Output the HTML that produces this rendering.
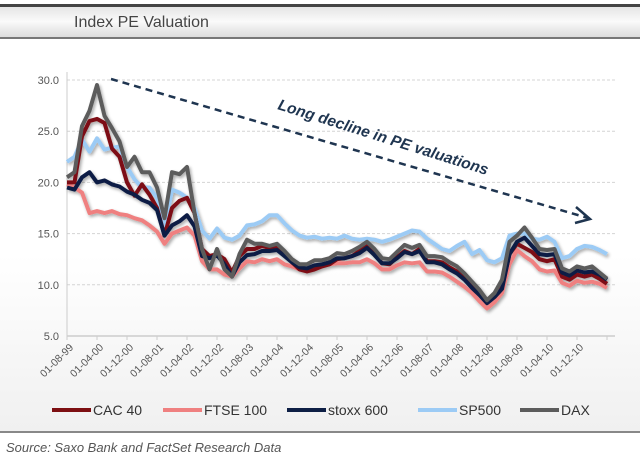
<!DOCTYPE html>
<html><head><meta charset="utf-8"><style>
body{margin:0;background:#fff;width:640px;height:466px;overflow:hidden;font-family:"Liberation Sans",sans-serif}
</style></head><body>
<svg width="640" height="466" xmlns="http://www.w3.org/2000/svg">
<defs>
<linearGradient id="hdr" x1="0" y1="0" x2="0" y2="1"><stop offset="0" stop-color="#e2e2e2"/><stop offset="0.5" stop-color="#fafafa"/><stop offset="1" stop-color="#dadada"/></linearGradient>
<linearGradient id="bg" x1="0" y1="0" x2="0" y2="1"><stop offset="0" stop-color="#ffffff"/><stop offset="0.55" stop-color="#ffffff"/><stop offset="1" stop-color="#f0f0f0"/></linearGradient>
<filter id="sh" x="-5%" y="-5%" width="110%" height="120%"><feGaussianBlur in="SourceAlpha" stdDeviation="1.5"/><feOffset dx="1.5" dy="2"/><feComponentTransfer><feFuncA type="linear" slope="0.35"/></feComponentTransfer><feMerge><feMergeNode/><feMergeNode in="SourceGraphic"/></feMerge></filter>
</defs>
<rect x="0" y="38" width="640" height="394" fill="url(#bg)"/>
<rect x="0" y="5" width="640" height="33" fill="url(#hdr)"/>
<rect x="0" y="4" width="640" height="3" fill="#444"/>
<rect x="0" y="37" width="640" height="2" fill="#777"/>
<text x="74" y="27" font-size="16" fill="#444">Index PE Valuation</text>
<g id="grid"></g><g id="axes"></g><g id="series" filter="url(#sh)"></g>
<g>
<line x1="111" y1="79" x2="588" y2="218" stroke="#1f3550" stroke-width="2.5" stroke-dasharray="7,5"/>
<polyline points="576,207 590,219 575,223" fill="none" stroke="#1f3550" stroke-width="2.5"/>
</g>
<text x="0" y="0" transform="translate(277,109) rotate(17.5)" font-size="15.5" font-weight="bold" font-style="italic" fill="#1f3550">Long decline in PE valuations</text>
<g id="legend"></g>
<rect x="0" y="431" width="640" height="2" fill="#888"/>
<text x="6" y="452" font-size="13" font-style="italic" fill="#555">Source: Saxo Bank and FactSet Research Data</text>
</svg>
<script>
const yTicks=[5,10,15,20,25,30];
const xLabels=["01-08-99","01-04-00","01-12-00","01-08-01","01-04-02","01-12-02","01-08-03","01-04-04","01-12-04","01-08-05","01-04-06","01-12-06","01-08-07","01-04-08","01-12-08","01-08-09","01-04-10","01-12-10"];
const seriesNames=["SP500","FTSE 100","CAC 40","stoxx 600","DAX"];
const cac=[20,20,24.5,26,26.2,25.8,23.3,22.5,20,18.7,19.8,18.8,17.5,14.8,17.5,18.2,18.5,17,13.5,12.8,13,12.5,11.2,12.8,13.5,13.5,13.8,13.6,13.8,13,12.2,11.5,11.3,11.5,11.8,12,12.5,12.6,12.8,13.3,13.8,13,12.1,12,12.7,13.3,13,13.5,12.3,12.3,12.2,11.7,11.3,10.6,9.9,9.2,8.3,8.9,9.8,13,14,13.6,13.2,12.5,12.3,12.5,10.8,10.5,11,10.8,11,10.6,10.1];
const ftse=[19.8,19.5,19,17,17.2,17,17.2,16.9,16.8,16.5,16.3,15.8,15.2,14,15,15.3,15.6,14.8,12.3,11.5,11.5,11,10.8,11.6,12.3,12.2,12.5,12.3,12.5,12,11.8,11.5,11.5,11.7,11.9,12,12.1,12.1,12.2,12.2,12.5,12.1,11.5,11.5,11.9,12.2,12.1,12.2,11.3,11.3,11.2,10.8,10.3,9.8,9.2,8.4,7.7,8.3,9.2,12,13.4,12.8,12.3,11.5,11.3,11.4,10.2,9.9,10.4,10.2,10.3,10.1,9.7];
const stoxx=[19.5,19.3,20.5,21,20,20.2,19.8,19.6,19.1,18.8,18.3,18,17.3,14.8,15.8,16.2,16.8,15.7,12.8,12.6,12.9,12,10.8,12.2,12.9,13,13.3,13.3,13.4,12.8,12.2,11.7,11.6,11.9,12,12.2,12.6,12.6,12.8,13.1,13.6,12.9,12.1,12.1,12.6,13.2,13,13.3,12.2,12.2,12,11.5,11.1,10.5,9.7,9,8.2,8.8,9.6,13,14.2,14.6,13.8,13,12.9,13,11.2,10.9,11.4,11.2,11.3,11,10.5];
const sp500=[22,22.5,24.2,23,24.3,23.2,23.4,23.5,21.5,20.3,19.5,19.5,18.5,15.5,19.3,19,18.5,17.5,15.3,14.5,15.5,14.6,14.4,14.8,15.8,15.9,16.2,16.8,16.8,16,15.3,14.8,14.6,14.7,14.5,14.6,14.5,14.8,14.5,14.4,14.5,14.4,14.2,14.4,14.7,15,15.3,15.2,14.5,14,13.5,13.3,13.8,14.2,13,13.4,12.4,12.2,12.6,14.8,15,15,14.5,14.4,14.7,14.2,12.6,12.8,13.5,13.8,13.7,13.4,13];
const dax=[20.5,21,25.5,27,29.5,26.5,25.3,24,21.5,22.5,21,21,19.5,16.5,21,20.8,21.5,17,13.5,11.5,13.5,11.5,10.8,13,14.4,14,14,13.8,14,13.3,12.5,12,12,12.4,12.4,12.6,13.1,13,13.3,13.7,14.2,13.5,12.6,12.5,13.2,13.9,13.6,13.9,12.8,12.8,12.7,12.2,11.8,11.1,10.3,9.5,8.5,9.2,10.5,14.2,14.8,15.6,14.6,13.5,13.4,13.5,11.6,11.3,11.8,11.6,11.8,11.2,10.6];
const NS="http://www.w3.org/2000/svg";
const X0=67,X1=615,Y0=336,Y1=80;
function yS(v){return Y0-(v-5)/25*(Y0-Y1);}
function xS(i){return X0+i*7.5;}
function xT(k){return X0+k*30;}
function mk(tag,attrs,parent){const e=document.createElementNS(NS,tag);for(const k in attrs)e.setAttribute(k,attrs[k]);parent.appendChild(e);return e;}
const grid=document.getElementById('grid'),axes=document.getElementById('axes'),ser=document.getElementById('series'),leg=document.getElementById('legend');
yTicks.forEach(t=>{
  if(t>5){const g=mk('line',{x1:X0,x2:X1,y1:yS(t),y2:yS(t),stroke:'#d4d4d4','stroke-width':1,'stroke-dasharray':'3,2'},grid);
  
  }
  const l=mk('text',{x:X0-8,y:yS(t)+4,'text-anchor':'end','font-size':11,fill:'#555'},axes);l.textContent=t.toFixed(1);
  
  
});
const ya=mk('line',{x1:X0,x2:X0,y1:72,y2:Y0,stroke:'#ccc','stroke-width':1},axes);


const xa=mk('line',{x1:X0,x2:X1,y1:Y0,y2:Y0,stroke:'#ccc','stroke-width':1.5},axes);


for(let k=0;k<=18;k++){mk('line',{x1:xT(k),x2:xT(k),y1:Y0,y2:Y0+4,stroke:'#ccc'},axes);}
xLabels.forEach((s,k)=>{const t=mk('text',{x:0,y:0,transform:`translate(${xT(k)+7},${Y0+12}) rotate(-45)`,'text-anchor':'end','font-size':10.5,fill:'#555'},axes);t.textContent=s;
  
  });
const data=[sp500,ftse,cac,stoxx,dax];
const cols=['#9ccbf5','#ef8080','#7d0f12','#0e1f45','#5c5c5c'];
data.forEach((arr,si)=>{
  const p=mk('polyline',{points:arr.map((v,i)=>xS(i).toFixed(1)+','+yS(v).toFixed(1)).join(' '),fill:'none',stroke:cols[si],'stroke-width':4,'stroke-linejoin':'round'},ser);
  
  
});
const legOrder=[2,1,3,0,4],legX=[52,163,287,418,520];
legOrder.forEach((si,j)=>{
  const g=mk('g',{},leg);
  
  
  mk('line',{x1:legX[j],x2:legX[j]+39,y1:410,y2:410,stroke:cols[si],'stroke-width':4},g);
  const t=mk('text',{x:legX[j]+41,y:415,'font-size':14,fill:'#333'},g);t.textContent=seriesNames[si];
});
</script>
</body></html>
